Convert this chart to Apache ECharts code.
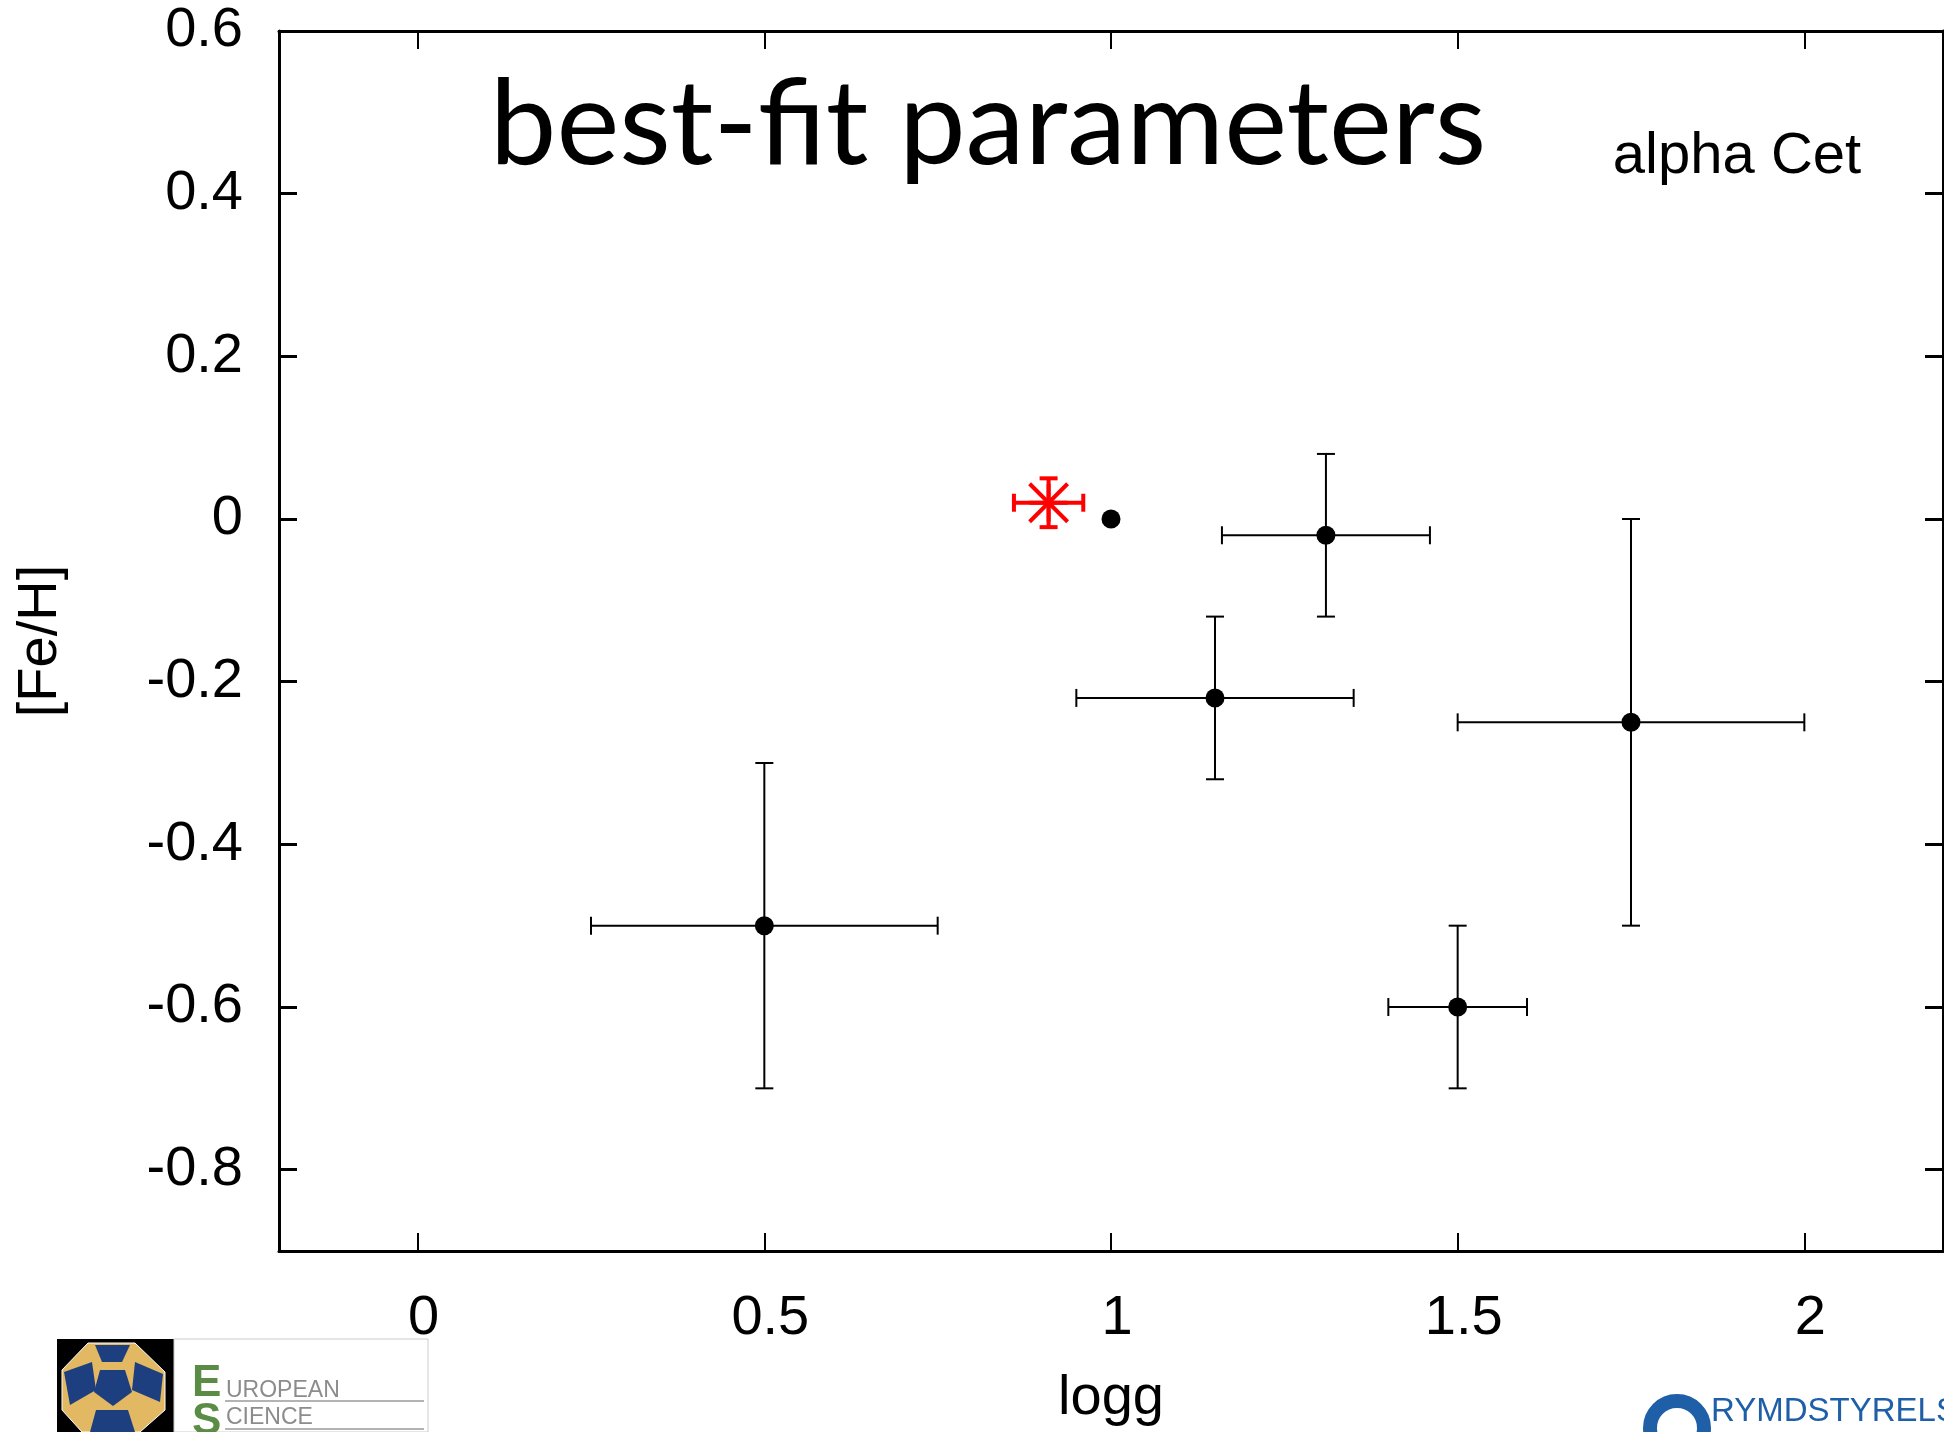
<!DOCTYPE html>
<html>
<head>
<meta charset="utf-8">
<script src="https://cdn.jsdelivr.net/npm/echarts@6/dist/echarts.min.js"></script>
<style>html,body{margin:0;padding:0;background:#fff}#c{width:1944px;height:1432px}</style>
</head>
<body>
<div id="c"></div>
<script>
// ---- data ----
const logg = [0.5, 1.15, 1.31, 1.75, 1.5, 1.0];
const feh = [-0.5, -0.22, -0.02, -0.25, -0.6, 0.0];
const loggErr = [0.25, 0.2, 0.15, 0.25, 0.1, 0];
const fehErr = [0.2, 0.1, 0.1, 0.25, 0.1, 0];
const refLogg = [0.91];
const refFeh = [0.02];
const refLoggErr = [0.05];
const refFehErr = [0.03];
const xTicks = [0, 0.5, 1, 1.5, 2];
const yTicks = [-0.8, -0.6, -0.4, -0.2, 0, 0.2, 0.4, 0.6];

const pts = logg.map((v, i) => [v, feh[i], loggErr[i], fehErr[i]]);
const refPts = refLogg.map((v, i) => [v, refFeh[i], refLoggErr[i], refFehErr[i]]);

function errRender(color, lw, cap, star) {
  return function (params, api) {
    const x = api.value(0), y = api.value(1), ex = api.value(2), ey = api.value(3);
    const st = { stroke: color, lineWidth: lw };
    const ch = [];
    const ln = (a, b) => ch.push({ type: 'line', shape: { x1: a[0], y1: a[1], x2: b[0], y2: b[1] }, style: st });
    if (ex > 0) {
      const l = api.coord([x - ex, y]), r = api.coord([x + ex, y]);
      ln(l, r);
      ln([l[0], l[1] - cap], [l[0], l[1] + cap]);
      ln([r[0], r[1] - cap], [r[0], r[1] + cap]);
    }
    if (ey > 0) {
      const t = api.coord([x, y + ey]), b = api.coord([x, y - ey]);
      ln(t, b);
      ln([t[0] - cap, t[1]], [t[0] + cap, t[1]]);
      ln([b[0] - cap, b[1]], [b[0] + cap, b[1]]);
    }
    if (star) {
      const c = api.coord([x, y]);
      const s = 19;
      ln([c[0] - s, c[1] - s], [c[0] + s, c[1] + s]);
      ln([c[0] - s, c[1] + s], [c[0] + s, c[1] - s]);
      ln([c[0] - s, c[1]], [c[0] + s, c[1]]);
      ln([c[0], c[1] - s], [c[0], c[1] + s]);
    }
    return { type: 'group', children: ch };
  };
}

const labelFont = { fontFamily: 'Liberation Sans', fontSize: 56, color: '#000' };
const frameLine = { onZero: false, lineStyle: { color: '#000', width: 3 } };
const chart = echarts.init(document.getElementById('c'));
chart.setOption({
  animation: false,
  backgroundColor: '#fff',
  title: [
    { text: 'best-fit parameters', left: 988, top: 66, textAlign: 'center', padding: 0,
      textStyle: { fontFamily: 'Lato', fontWeight: 'normal', fontSize: 119, color: '#000' } },
    { text: 'alpha Cet', left: 1737, top: 128, textAlign: 'center', padding: 0,
      textStyle: { fontFamily: 'Liberation Sans', fontWeight: 'normal', fontSize: 58, color: '#000' } }
  ],
  grid: { left: 279, right: 1, top: 31, bottom: 181, containLabel: false },
  xAxis: [
    { type: 'value', min: -0.2, max: 2.2, position: 'bottom',
      name: 'logg', nameLocation: 'middle', nameGap: 120, nameTextStyle: labelFont,
      axisLine: frameLine,
      axisTick: { inside: true, length: 18, lineStyle: { color: '#000', width: 2 }, customValues: xTicks },
      axisLabel: { ...labelFont, margin: 40, customValues: xTicks, padding: [0, 0, 0, 12] },
      splitLine: { show: false } },
    { type: 'value', min: -0.2, max: 2.2, position: 'top',
      axisLine: frameLine,
      axisTick: { inside: true, length: 18, lineStyle: { color: '#000', width: 2 }, customValues: xTicks },
      axisLabel: { show: false }, splitLine: { show: false } }
  ],
  yAxis: [
    { type: 'value', min: -0.9, max: 0.6, position: 'left',
      name: '[Fe/H]', nameLocation: 'middle', nameGap: 210, nameRotate: 90, nameTextStyle: labelFont,
      axisLine: frameLine,
      axisTick: { inside: true, length: 18, lineStyle: { color: '#000', width: 3 }, customValues: yTicks },
      axisLabel: { ...labelFont, margin: 36, customValues: yTicks },
      splitLine: { show: false } },
    { type: 'value', min: -0.9, max: 0.6, position: 'right',
      axisLine: frameLine,
      axisTick: { inside: true, length: 18, lineStyle: { color: '#000', width: 3 }, customValues: yTicks },
      axisLabel: { show: false }, splitLine: { show: false } }
  ],
  series: [
    { type: 'custom', renderItem: errRender('#000', 2, 9, false), data: pts, z: 2 },
    { type: 'scatter', data: pts, symbol: 'circle', symbolSize: 19, itemStyle: { color: '#000', opacity: 1 }, z: 3 },
    { type: 'custom', renderItem: errRender('#ff0000', 4, 9, true), data: refPts, z: 4 }
  ],
  graphic: [
    // left logo (approximation)
    { type: 'rect', shape: { x: 57, y: 1339, width: 117, height: 93 }, style: { fill: '#000' } },
    { type: 'polygon', shape: { points: [[88,1343],[135,1343],[165,1372],[165,1410],[140,1432],[82,1432],[62,1410],[62,1370]] },
      style: { fill: '#e3b863', stroke: '#ffffff', lineWidth: 1 } },
    { type: 'polygon', shape: { points: [[100,1370],[125,1370],[132,1392],[113,1406],[94,1392]] }, style: { fill: '#1d3f80' } },
    { type: 'polygon', shape: { points: [[64,1372],[92,1362],[96,1390],[70,1405]] }, style: { fill: '#1d3f80' } },
    { type: 'polygon', shape: { points: [[135,1362],[163,1374],[160,1402],[132,1390]] }, style: { fill: '#1d3f80' } },
    { type: 'polygon', shape: { points: [[95,1345],[130,1345],[122,1362],[102,1362]] }, style: { fill: '#1d3f80' } },
    { type: 'polygon', shape: { points: [[96,1410],[128,1410],[135,1432],[90,1432]] }, style: { fill: '#1d3f80' } },
    { type: 'rect', shape: { x: 174, y: 1339, width: 254, height: 93 }, style: { fill: '#fff', stroke: '#cccccc', lineWidth: 1 } },
    { type: 'text', x: 192, y: 1362, style: { text: 'E', fill: '#5b8c45', font: 'bold 44px "Liberation Sans Narrow", "Liberation Sans"' } },
    { type: 'text', x: 192, y: 1400, style: { text: 'S', fill: '#5b8c45', font: 'bold 44px "Liberation Sans Narrow", "Liberation Sans"' } },
    { type: 'text', x: 226, y: 1379, style: { text: 'UROPEAN', fill: '#8c8c8c', font: '23px "Liberation Sans"' } },
    { type: 'text', x: 226, y: 1406, style: { text: 'CIENCE', fill: '#8c8c8c', font: '23px "Liberation Sans"' } },
    { type: 'line', shape: { x1: 225, y1: 1401, x2: 424, y2: 1401 }, style: { stroke: '#9a9a9a', lineWidth: 1.5 } },
    { type: 'line', shape: { x1: 225, y1: 1429, x2: 424, y2: 1429 }, style: { stroke: '#9a9a9a', lineWidth: 1.5 } },
    // right logo (approximation)
    { type: 'circle', shape: { cx: 1677, cy: 1428, r: 27 }, style: { fill: 'none', stroke: '#1f5fa8', lineWidth: 14 } },
    { type: 'text', x: 1711, y: 1395, style: { text: 'RYMDSTYRELSEN', fill: '#1f5fa8', font: '33px "Liberation Sans Narrow", "Liberation Sans"' } }
  ]
});
</script>
</body>
</html>
